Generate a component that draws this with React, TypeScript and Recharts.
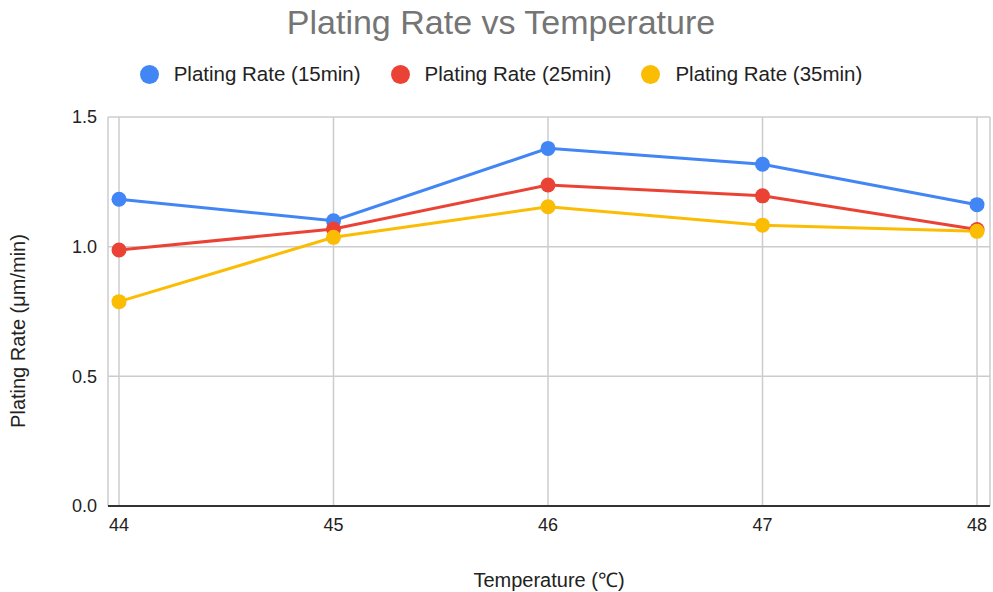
import React from 'react';
import { LineChart, Line, XAxis, YAxis, CartesianGrid, Label } from 'recharts';

const temperatures = [44, 45, 46, 47, 48];
const rate15 = [1.183, 1.1, 1.379, 1.318, 1.162];
const rate25 = [0.987, 1.068, 1.238, 1.196, 1.066];
const rate35 = [0.788, 1.036, 1.154, 1.083, 1.059];
const yTicks = [0, 0.5, 1.0, 1.5];
const seriesKeys = ['r15', 'r25', 'r35'];
const seriesNames = ['Plating Rate (15min)', 'Plating Rate (25min)', 'Plating Rate (35min)'];
const seriesColors = ['#4285F4', '#EA4335', '#FBBC04'];
const title = 'Plating Rate vs Temperature';
const xTitle = 'Temperature (℃)';
const yTitle = 'Plating Rate (μm/min)';

const data = temperatures.map((t, i) => ({ t, r15: rate15[i], r25: rate25[i], r35: rate35[i] }));

const FONT = '"Liberation Sans", Arial, sans-serif';

export default function App() {
  return (
    <div style={{ position: 'absolute', left: 0, top: 0, width: 993, height: 592, background: '#fff', fontFamily: FONT }}>
      <div style={{ position: 'absolute', left: 0, top: 2, width: 1002, textAlign: 'center', fontSize: 34, color: '#757575', lineHeight: '40px' }}>
        {title}
      </div>
      <div style={{ position: 'absolute', left: 0, top: 62, width: 1002, display: 'flex', justifyContent: 'center', alignItems: 'center', fontSize: 20.5, color: '#222', lineHeight: '24px' }}>
        {seriesNames.map((n, i) => (
          <div key={n} style={{ display: 'flex', alignItems: 'center', marginRight: i < 2 ? 30 : 0 }}>
            <span style={{ display: 'inline-block', width: 19, height: 19, borderRadius: '50%', background: seriesColors[i], marginRight: 15 }} />
            <span>{n}</span>
          </div>
        ))}
      </div>
      <LineChart width={993} height={592} data={data} margin={{ top: 117, right: 3, bottom: 0, left: 0 }} style={{ position: 'absolute', left: 0, top: 0 }}>
        <CartesianGrid stroke="#cccccc" strokeWidth={1.5} />
        <XAxis
          dataKey="t"
          type="number"
          domain={[44, 48]}
          ticks={temperatures}
          padding={{ left: 11, right: 13 }}
          height={86}
          tickSize={0}
          tickMargin={12}
          axisLine={{ stroke: '#333333', strokeWidth: 2 }}
          tick={{ fill: '#222', fontSize: 18, fontFamily: FONT }}
        >
          <Label value={xTitle} position="insideBottom" offset={5} style={{ fill: '#222', fontSize: 20, fontFamily: FONT }} />
        </XAxis>
        <YAxis
          domain={[0, 1.5]}
          ticks={yTicks}
          width={108}
          tickSize={0}
          tickMargin={11}
          axisLine={false}
          tickFormatter={(v: number) => v.toFixed(1)}
          tick={{ fill: '#222', fontSize: 18, fontFamily: FONT }}
        >
          <Label
            content={() => (
              <text x={25} y={331} transform="rotate(-90 25 331)" textAnchor="middle" fill="#222" fontSize={20} fontFamily={FONT}>
                {yTitle}
              </text>
            )}
          />
        </YAxis>
        {seriesKeys.map((k, i) => (
          <Line
            key={k}
            dataKey={k}
            name={seriesNames[i]}
            stroke={seriesColors[i]}
            strokeWidth={3}
            dot={{ r: 7.5, fill: seriesColors[i], stroke: 'none' }}
            activeDot={false}
            isAnimationActive={false}
          />
        ))}
      </LineChart>
    </div>
  );
}
